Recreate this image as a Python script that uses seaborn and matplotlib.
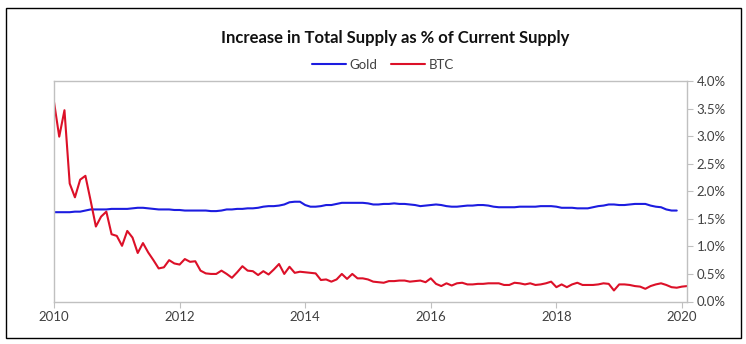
import matplotlib
matplotlib.use("Agg")
import matplotlib.pyplot as plt
import seaborn as sns
import numpy as np
import pandas as pd
from matplotlib.patches import Rectangle
from matplotlib.ticker import FuncFormatter

gold = [1.62, 1.62, 1.62, 1.62, 1.63, 1.63, 1.65, 1.67, 1.67, 1.67,
        1.67, 1.68, 1.68, 1.68, 1.68, 1.69, 1.70, 1.70, 1.69, 1.68,
        1.67, 1.67, 1.67, 1.66, 1.66, 1.65, 1.65, 1.65, 1.65, 1.65,
        1.64, 1.64, 1.65, 1.67, 1.67, 1.68, 1.68, 1.69, 1.69, 1.70,
        1.72, 1.73, 1.73, 1.74, 1.76, 1.80, 1.81, 1.81, 1.75, 1.72,
        1.72, 1.73, 1.75, 1.75, 1.77, 1.79, 1.79, 1.79, 1.79, 1.79,
        1.78, 1.76, 1.76, 1.77, 1.77, 1.78, 1.77, 1.77, 1.76, 1.75,
        1.73, 1.74, 1.75, 1.76, 1.75, 1.73, 1.72, 1.72, 1.73, 1.74,
        1.74, 1.75, 1.75, 1.74, 1.72, 1.71, 1.71, 1.71, 1.71, 1.72,
        1.72, 1.72, 1.72, 1.73, 1.73, 1.73, 1.72, 1.70, 1.70, 1.70,
        1.69, 1.69, 1.69, 1.71, 1.73, 1.74, 1.76, 1.76, 1.75, 1.75,
        1.76, 1.77, 1.77, 1.77, 1.74, 1.72, 1.71, 1.67, 1.65, 1.65]

btc = [3.62, 2.99, 3.47, 2.14, 1.89, 2.21, 2.28, 1.83, 1.36, 1.54,
       1.63, 1.22, 1.19, 1.01, 1.28, 1.16, 0.88, 1.06, 0.89, 0.75,
       0.60, 0.62, 0.75, 0.69, 0.67, 0.77, 0.72, 0.73, 0.56, 0.51,
       0.50, 0.50, 0.56, 0.50, 0.43, 0.53, 0.64, 0.56, 0.55, 0.48,
       0.55, 0.49, 0.58, 0.68, 0.50, 0.63, 0.52, 0.54, 0.53, 0.52,
       0.51, 0.39, 0.40, 0.36, 0.40, 0.50, 0.41, 0.50, 0.42, 0.42,
       0.40, 0.36, 0.35, 0.34, 0.37, 0.37, 0.38, 0.38, 0.36, 0.37,
       0.38, 0.35, 0.42, 0.32, 0.28, 0.33, 0.29, 0.33, 0.34, 0.31,
       0.31, 0.32, 0.32, 0.33, 0.33, 0.33, 0.30, 0.30, 0.34, 0.33,
       0.31, 0.33, 0.30, 0.31, 0.33, 0.36, 0.26, 0.31, 0.26, 0.31,
       0.34, 0.30, 0.30, 0.30, 0.31, 0.33, 0.32, 0.20, 0.31, 0.31,
       0.30, 0.28, 0.27, 0.23, 0.28, 0.31, 0.33, 0.30, 0.26, 0.25,
       0.27, 0.28]

gold_t = [2010 + i / 12 for i in range(len(gold))]
btc_t = [2010 + i / 12 for i in range(len(btc))]

year_ticks = [2010, 2012, 2014, 2016, 2018, 2020]
pct_ticks = [0.0, 0.5, 1.0, 1.5, 2.0, 2.5, 3.0, 3.5, 4.0]

df = pd.concat([
    pd.DataFrame({"t": gold_t, "v": gold, "s": "Gold"}),
    pd.DataFrame({"t": btc_t, "v": btc, "s": "BTC"}),
])

sns.set_theme(style="white")
plt.rcParams['font.family'] = ['Lato', 'DejaVu Sans']

fig = plt.figure(figsize=(7.46, 3.44), dpi=100)
ax = fig.add_axes([54 / 746, 1 - 301.5 / 344, (687 - 54) / 746, (301.5 - 81) / 344])

palette = {"Gold": "#1c1ce0", "BTC": "#dc1028"}
sns.lineplot(data=df, x="t", y="v", hue="s", palette=palette, linewidth=1.5,
             ax=ax, legend=False)

ax.set_xlim(2010, 2020.08)
ax.set_ylim(0, 4)
ax.set_xticks(year_ticks)
ax.set_yticks(pct_ticks)
ax.yaxis.tick_right()
ax.yaxis.set_major_formatter(FuncFormatter(lambda v, p: f"{v:.1f}%"))
ax.set_xlabel("")
ax.set_ylabel("")
for sp in ax.spines.values():
    sp.set_color("#c0c0c0")
    sp.set_linewidth(1.0)
ax.tick_params(axis="both", which="major", direction="out", length=4,
               width=0.8, color="#c0c0c0", labelsize=9.5, labelcolor="#404040",
               pad=3)
ax.tick_params(axis="y", right=True, left=False)
ax.tick_params(axis="x", bottom=True)

from matplotlib.lines import Line2D
handles = [Line2D([], [], color=palette["Gold"], lw=1.5),
           Line2D([], [], color=palette["BTC"], lw=1.5)]
fig.legend(handles, ["Gold", "BTC"], loc="center", bbox_to_anchor=(383 / 746, 1 - 65 / 344),
           ncol=2, frameon=False, fontsize=9.5, handlelength=2.6, handletextpad=0.3,
           columnspacing=1.0, labelcolor="#404040")

fig.text(395 / 746, 1 - 38 / 344, "Increase in Total Supply as % of Current Supply",
         ha="center", va="center", fontsize=12, fontweight="bold", color="#111111")

fig.patches.append(Rectangle((6 / 746, 1 - 338 / 344), (741 - 6) / 746, (338 - 8) / 344,
                             transform=fig.transFigure, fill=False, edgecolor="black",
                             linewidth=1.0))

fig.savefig("out.png", dpi=100)
